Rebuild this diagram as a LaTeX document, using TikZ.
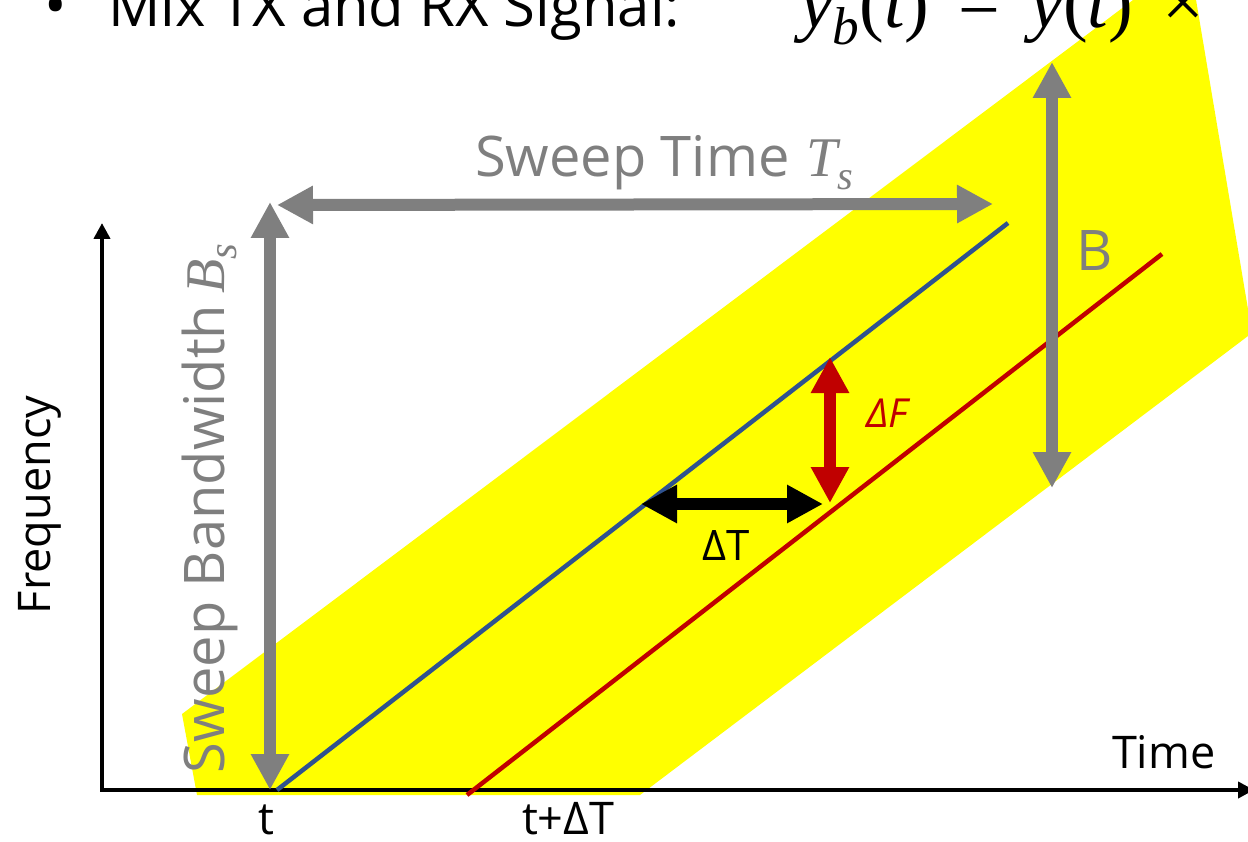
\documentclass[tikz,border=0pt]{standalone}
\usepackage[no-math]{fontspec}
\setmainfont{Open Sans}
\newfontfamily\mth{Liberation Serif}
\usetikzlibrary{arrows.meta}
\definecolor{hl}{HTML}{FFFF00}
\definecolor{gr}{HTML}{7F7F7F}
\definecolor{rd}{HTML}{C00000}
\definecolor{bl}{HTML}{2F528F}
\newcommand\msub[1]{\raisebox{-0.22em}{\scalebox{0.72}{#1}}}
\newcommand\mv[1]{{\mth\itshape #1}}
\tikzset{
  bigarrow/.style={line width=12pt, arrows={Triangle[length=36pt,width=36pt]-Triangle[length=36pt,width=36pt]}},
  axisarrow/.style={line width=4pt, black, arrows={-Triangle[length=16pt,width=16pt]}},
  chirp/.style={line width=4.5pt},
  lbl/.style={inner sep=0pt, outer sep=0pt},
  bigtxt/.style={lbl, font=\fontsize{56}{64}\selectfont},
  midtxt/.style={lbl, font=\fontsize{45}{52}\selectfont},
}
\begin{document}
\begin{tikzpicture}[x=1pt,y=1pt]
\useasboundingbox (0,0) rectangle (1248,-842);
\clip (0,0) rectangle (1248,-842);
% yellow band
\fill[hl] (182,-714) -- (1189,42) -- (1252,-333) -- (640,-795) -- (197,-795) -- cycle;
% title line (cut)
\node[lbl, anchor=base west, font=\fontsize{60}{70}\selectfont] (bul) at (44,-27) {\textbullet};
\node[lbl, anchor=base west, font=\fontsize{58}{70}\selectfont] (title) at (108,-27) {Mix TX and RX Signal:};
\node[lbl, anchor=base west, font=\fontsize{74}{80}\selectfont] (eq) at (800,-28) {\mv{y}\msub{\mv{b}}{\mth(}\mv{t}{\mth)}\hspace{0.4em}{\mth=}\hspace{0.4em}\mv{y}{\mth(}\mv{t}{\mth)}\hspace{0.4em}{\mth×}};
% axes
\coordinate (O) at (100,-790);
\coordinate (Otop) at (102,-790);
\coordinate (yend) at (102,-223);
\coordinate (xend) at (1254,-790);
\draw[axisarrow] (O) -- (xend);
\draw[axisarrow] (Otop) -- (yend);
% chirps
\coordinate (b0) at (277,-790); \coordinate (b1) at (1008,-223);
\coordinate (r0) at (467,-795); \coordinate (r1) at (1162,-254);
\draw[chirp, bl] (b0) -- (b1);
\draw[chirp, rd] (r0) -- (r1);
% gray arrows
\coordinate (bsB) at (270,-790); \coordinate (bsT) at (270,-202);
\coordinate (tsL) at (277,-205); \coordinate (tsR) at (993,-204);
\coordinate (bT) at (1052,-62); \coordinate (bB) at (1052,-488);
\draw[bigarrow, gr] (bsB) -- (bsT);
\draw[bigarrow, gr] (tsL) -- (tsR);
\draw[bigarrow, gr] (bT) -- (bB);
% delta arrows
\coordinate (dfT) at (830,-357); \coordinate (dfB) at (830,-503);
\coordinate (dtL) at (641,-504); \coordinate (dtR) at (823,-504);
\draw[bigarrow, rd] (dfT) -- (dfB);
\draw[bigarrow, black] (dtL) -- (dtR);
% labels
\node[bigtxt, text=gr, anchor=base west] (sweeptime) at (475,-177) {Sweep Time\hspace{0.3em}\mv{T}\msub{\mv{s}}};
\node[bigtxt, text=gr, anchor=base west, rotate=90] (sweepbw) at (224,-773) {Sweep Bandwidth\hspace{0.2em}\mv{B}\msub{\mv{s}}};
\node[bigtxt, text=gr, anchor=base west] (blab) at (1076,-271) {B};
\node[midtxt, anchor=base west, rotate=90] (freq) at (50,-614) {Frequency};
\node[midtxt, anchor=base west] (time) at (1112,-768) {Time};
\node[midtxt, anchor=base] (tlab) at (266,-834) {t};
\node[midtxt, anchor=base west] (tdlab) at (522,-834) {t+ΔT};
\node[lbl, font=\fontsize{42}{48}\selectfont, anchor=base west] (dtlab) at (702,-560) {ΔT};
\node[lbl, font=\fontsize{40}{46}\selectfont\itshape, text=rd, anchor=base west] (dflab) at (866,-427) {ΔF};
\end{tikzpicture}
\end{document}
